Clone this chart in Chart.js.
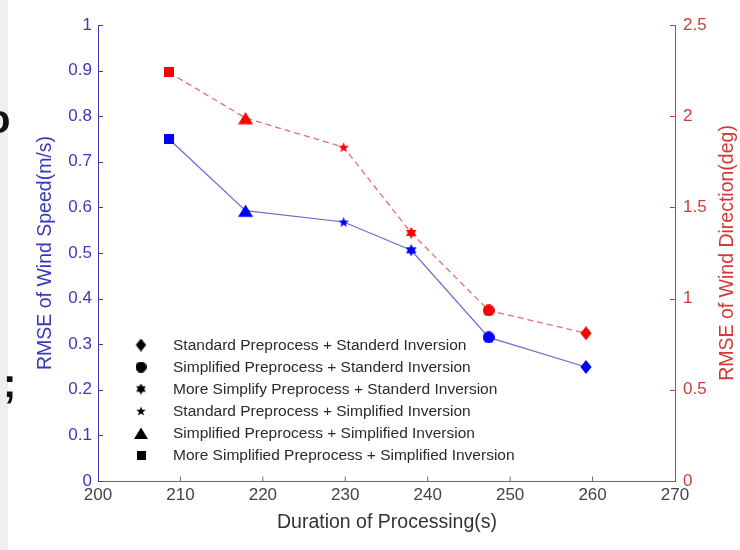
<!DOCTYPE html>
<html>
<head>
<meta charset="utf-8">
<script src="https://cdn.jsdelivr.net/npm/chart.js@4.4.1/dist/chart.umd.min.js"></script>
<style>
  html, body { margin: 0; padding: 0; background: #fff; }
  #wrap { width: 740px; height: 550px; }
</style>
</head>
<body>
<div id="wrap"><canvas id="chart" width="740" height="550"></canvas></div>
<script>
// values
const durations = [208.6, 217.9, 229.8, 238.0, 247.4, 259.2];
const speedRmse = [0.75, 0.593, 0.568, 0.506, 0.315, 0.25];
const directionRmse = [2.24, 1.99, 1.83, 1.36, 0.935, 0.81];
const markerShapes = ['square', 'triangle', 'pentagram', 'hexagram', 'circle', 'diamond'];

const xTicks = [200, 210, 220, 230, 240, 250, 260, 270];
const speedTicks = [0, 0.1, 0.2, 0.3, 0.4, 0.5, 0.6, 0.7, 0.8, 0.9, 1];
const directionTicks = [0, 0.5, 1, 1.5, 2, 2.5];

const legendLabels = [
  'Standard Preprocess + Standerd Inversion',
  'Simplified Preprocess + Standerd Inversion',
  'More Simplify Preprocess + Standerd Inversion',
  'Standard Preprocess + Simplified Inversion',
  'Simplified Preprocess + Simplified Inversion',
  'More Simplified Preprocess + Simplified Inversion'
];
const legendShapes = ['diamond', 'circle', 'hexagram', 'pentagram', 'triangle', 'square'];

const BLUE_AXIS = '#3a3ab8';
const RED_AXIS = '#d23a3a';
const GRAY_AXIS = '#6a6a6a';
const FONT = '"Liberation Sans", Arial, sans-serif';

// little canvases used as point styles
function starPath(g, cx, cy, n, ro, ri) {
  for (let i = 0; i < n * 2; i++) {
    const r = i % 2 === 0 ? ro : ri;
    const a = -Math.PI / 2 + i * Math.PI / n;
    const px = cx + r * Math.cos(a), py = cy + r * Math.sin(a);
    if (i === 0) g.moveTo(px, py); else g.lineTo(px, py);
  }
  g.closePath();
}

function makeMarker(shape, color, scale) {
  const sizes = { square: 10, triangle: 15, circle: 12, diamond: 14, hexagram: 12, pentagram: 11 };
  const s = Math.round(sizes[shape] * scale);
  const c = document.createElement('canvas');
  c.width = s; c.height = s;
  const g = c.getContext('2d');
  g.fillStyle = color;
  const m = s / 2;
  g.beginPath();
  if (shape === 'square') {
    g.rect(0, 0, s, s);
  } else if (shape === 'triangle') {
    g.moveTo(m, s * 0.1);
    g.lineTo(s, s * 0.92);
    g.lineTo(0, s * 0.92);
    g.closePath();
  } else if (shape === 'circle') {
    g.arc(m, m, m, 0, Math.PI * 2);
  } else if (shape === 'diamond') {
    g.moveTo(m, 0);
    g.lineTo(m + s * 0.4, m);
    g.lineTo(m, s);
    g.lineTo(m - s * 0.4, m);
    g.closePath();
  } else if (shape === 'hexagram') {
    starPath(g, m, m, 6, m, m * 0.58);
  } else if (shape === 'pentagram') {
    starPath(g, m, m * 1.08, 5, m, m * 0.42);
  }
  g.fill();
  return c;
}

const bluePoints = markerShapes.map(s => makeMarker(s, '#0000ff', 1));
const redPoints = markerShapes.map(s => makeMarker(s, '#ff0000', 1));
const legendPoints = legendShapes.map(s => makeMarker(s, '#000000', 0.9));

function inwardTicks(ctx, scale, values, color, dir, len) {
  ctx.strokeStyle = color;
  ctx.lineWidth = 1;
  ctx.beginPath();
  values.forEach(v => {
    const p = scale.getPixelForValue(v);
    if (scale.axis === 'x') {
      ctx.moveTo(p, scale.top + 0.5);
      ctx.lineTo(p, scale.top + 0.5 - len);
    } else {
      const x0 = dir > 0 ? scale.right : scale.left;
      ctx.moveTo(x0, Math.round(p) + 0.5);
      ctx.lineTo(x0 + dir * len, Math.round(p) + 0.5);
    }
  });
  ctx.stroke();
}

const decorations = {
  id: 'decorations',
  beforeDraw(chart) {
    const ctx = chart.ctx;
    ctx.save();
    ctx.fillStyle = '#ffffff';
    ctx.fillRect(0, 0, chart.width, chart.height);
    // grey strip of the neighbouring page on the left
    ctx.fillStyle = '#efefef';
    ctx.fillRect(0, 0, 8, chart.height);
    ctx.fillStyle = '#111';
    ctx.font = 'bold 40px ' + FONT;
    ctx.textBaseline = 'alphabetic';
    ctx.fillText('o', -14, 133);
    ctx.fillText(';', 3, 397);
    ctx.restore();
  },
  afterDraw(chart) {
    const ctx = chart.ctx;
    const sc = chart.scales;
    const area = chart.chartArea;
    ctx.save();
    inwardTicks(ctx, sc.y, speedTicks, BLUE_AXIS, 1, 5);
    inwardTicks(ctx, sc.y1, directionTicks, RED_AXIS, -1, 5);
    inwardTicks(ctx, sc.x, xTicks.slice(1, -1), GRAY_AXIS, 1, 5);

    // axis titles
    ctx.font = '19.5px ' + FONT;
    ctx.textAlign = 'center';
    ctx.textBaseline = 'middle';
    const midY = (area.top + area.bottom) / 2;
    ctx.fillStyle = '#333';
    ctx.fillText('Duration of Processing(s)', 387, 523);

    ctx.save();
    ctx.translate(46, midY);
    ctx.rotate(-Math.PI / 2);
    ctx.fillStyle = BLUE_AXIS;
    ctx.fillText('RMSE of Wind Speed(m/s)', 0, 0);
    ctx.restore();

    ctx.save();
    ctx.translate(728, midY);
    ctx.rotate(-Math.PI / 2);
    ctx.fillStyle = RED_AXIS;
    ctx.fillText('RMSE of Wind Direction(deg)', 0, 0);
    ctx.restore();

    // marker legend
    ctx.font = '15.5px ' + FONT;
    ctx.textAlign = 'left';
    ctx.fillStyle = '#2a2a2a';
    legendLabels.forEach((label, i) => {
      const y = 345 + i * 22;
      const img = legendPoints[i];
      ctx.drawImage(img, 141 - img.width / 2, y - img.height / 2);
      ctx.fillText(label, 173, y + 1);
    });
    ctx.restore();
  }
};

const tickLabel = v => String(v);

new Chart(document.getElementById('chart'), {
  type: 'line',
  data: {
    datasets: [{
      label: 'Wind Speed',
      data: durations.map((d, i) => ({ x: d, y: speedRmse[i] })),
      yAxisID: 'y',
      borderColor: '#6a6ad0',
      borderWidth: 1.2,
      pointStyle: bluePoints,
      pointRadius: 6,
      fill: false,
      tension: 0
    }, {
      label: 'Wind Direction',
      data: durations.map((d, i) => ({ x: d, y: directionRmse[i] })),
      yAxisID: 'y1',
      borderColor: '#e57070',
      borderWidth: 1.3,
      borderDash: [6, 4],
      pointStyle: redPoints,
      pointRadius: 6,
      fill: false,
      tension: 0
    }]
  },
  options: {
    responsive: false,
    animation: false,
    layout: { padding: { top: 25, left: 0, right: 0, bottom: 0 } },
    plugins: { legend: { display: false }, tooltip: { enabled: false } },
    scales: {
      x: {
        type: 'linear',
        min: 200, max: 270,
        afterFit: s => { s.height = 69; },
        afterBuildTicks: s => { s.ticks = xTicks.map(v => ({ value: v })); },
        grid: { display: false, drawTicks: false },
        border: { display: true, color: GRAY_AXIS },
        ticks: { color: '#444', font: { family: FONT, size: 17 }, padding: 4, maxRotation: 0, callback: tickLabel }
      },
      y: {
        position: 'left',
        min: 0, max: 1,
        afterFit: s => { s.width = 98; },
        afterBuildTicks: s => { s.ticks = speedTicks.map(v => ({ value: v })); },
        grid: { display: false, drawTicks: false },
        border: { display: true, color: BLUE_AXIS },
        ticks: { color: BLUE_AXIS, font: { family: FONT, size: 17 }, padding: 6, callback: tickLabel }
      },
      y1: {
        position: 'right',
        min: 0, max: 2.5,
        afterFit: s => { s.width = 65; },
        afterBuildTicks: s => { s.ticks = directionTicks.map(v => ({ value: v })); },
        grid: { display: false, drawTicks: false },
        border: { display: true, color: RED_AXIS },
        ticks: { color: RED_AXIS, font: { family: FONT, size: 17 }, padding: 8, callback: tickLabel }
      }
    }
  },
  plugins: [decorations]
});
</script>
</body>
</html>
